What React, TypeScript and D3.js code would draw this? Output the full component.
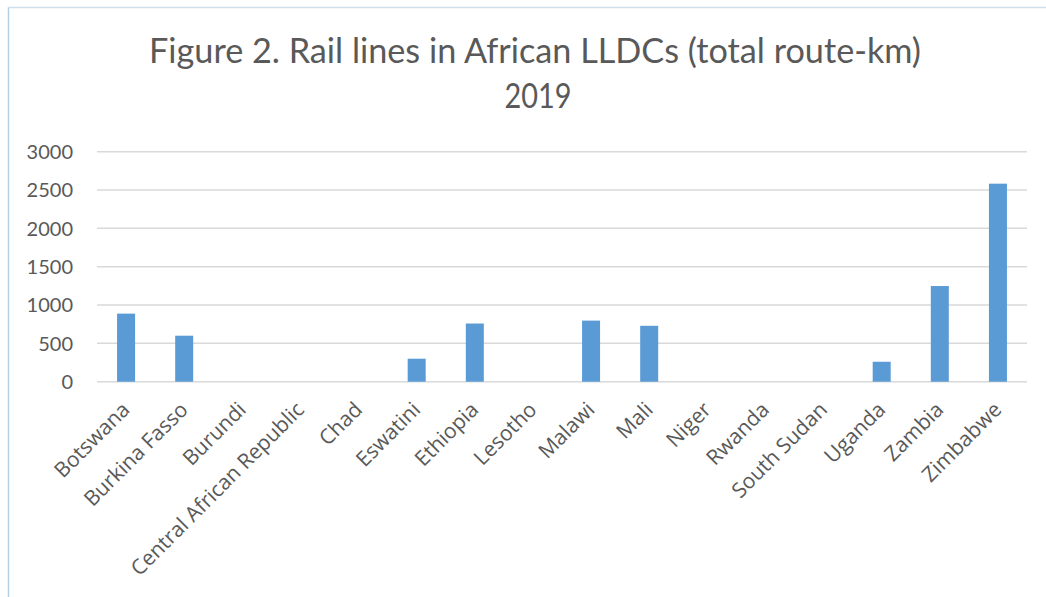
import React from "react";
import * as d3 from "d3";

const countries = [
  "Botswana", "Burkina Fasso", "Burundi", "Central African Republic", "Chad",
  "Eswatini", "Ethiopia", "Lesotho", "Malawi", "Mali", "Niger", "Rwanda",
  "South Sudan", "Uganda", "Zambia", "Zimbabwe",
];
const routeKm = [888, 600, 0, 0, 0, 300, 759, 0, 797, 729, 0, 0, 0, 260, 1248, 2583];
const yTicks = [0, 500, 1000, 1500, 2000, 2500, 3000];
const titleLines = ["Figure 2. Rail lines in African LLDCs (total route-km)", "2019"];

const W = 1046;
const H = 597;
const plotLeft = 97;
const plotRight = 1027;
const plotTop = 151.7;
const plotBottom = 381.7;

export default function App() {
  const x = d3.scaleBand<string>().domain(countries).range([plotLeft, plotRight]).paddingInner(0.69).paddingOuter(0.345);
  const y = d3.scaleLinear().domain([0, 3000]).range([plotBottom, plotTop]);
  const font = "Lato, 'Open Sans', sans-serif";
  const labelFont = "'Open Sans', sans-serif";
  return (
    <svg width={W} height={H} style={{ position: "absolute", left: 0, top: 0, background: "#fff" }}>
      <line x1={8.5} y1={7} x2={8.5} y2={H} stroke="#b4d0e6" strokeWidth={1.5} />
      <line x1={8.5} y1={7.5} x2={W} y2={7.5} stroke="#cfe0ec" strokeWidth={1.5} />
      <text x={535} y={63} textAnchor="middle" fontFamily={font} fontSize={34} fill="#595959" textLength={772} lengthAdjust="spacingAndGlyphs">
        {titleLines[0]}
      </text>
      <text x={538} y={108} textAnchor="middle" fontFamily={font} fontSize={34} fill="#595959" textLength={67} lengthAdjust="spacingAndGlyphs">
        {titleLines[1]}
      </text>
      {yTicks.map((t) => (
        <g key={t}>
          <line x1={plotLeft} x2={plotRight} y1={y(t)} y2={y(t)} stroke="#d9d9d9" strokeWidth={1.5} />
          <text x={73} y={y(t)} dy="0.36em" textAnchor="end" fontFamily={font} fontSize={20} fill="#595959">
            {t}
          </text>
        </g>
      ))}
      {countries.map((c, i) => (
        <rect key={c} x={x(c)} width={x.bandwidth()} y={y(routeKm[i])} height={plotBottom - y(routeKm[i])} fill="#5b9bd5" />
      ))}
      {countries.map((c) => {
        const cx = (x(c) as number) + x.bandwidth() / 2 + 5;
        const cy = 411;
        return (
          <text key={c} x={cx} y={cy} textAnchor="end" transform={`rotate(-45 ${cx} ${cy})`} fontFamily={labelFont} fontSize={21} fill="#595959">
            {c}
          </text>
        );
      })}
    </svg>
  );
}
